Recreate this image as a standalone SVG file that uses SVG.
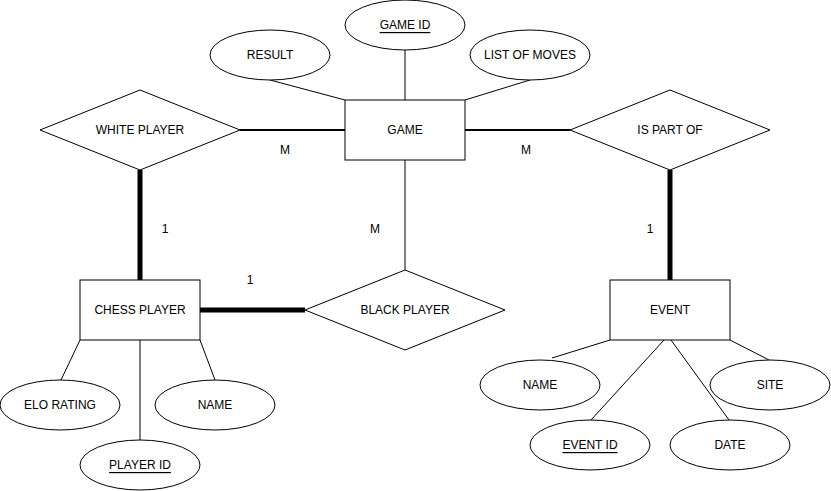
<svg xmlns="http://www.w3.org/2000/svg" width="831" height="491" viewBox="0 0 831 491">
<style>
.shape{fill:#ffffff;stroke:#000000;stroke-width:1}
.t{font-family:"Liberation Sans",Arial,sans-serif;font-size:12px;fill:#000000;text-anchor:middle;dominant-baseline:central}
.u{text-decoration:underline}
.thin{stroke:#000000;stroke-width:1;fill:none}
.med{stroke:#000000;stroke-width:2;fill:none}
.thick{stroke:#000000;stroke-width:5;fill:none}
</style>
<rect x="0" y="0" width="831" height="491" fill="#ffffff"/>
<g id="connectors">
<line class="thin" x1="270" y1="80" x2="345" y2="100"/>
<line class="thin" x1="405" y1="50" x2="405" y2="100"/>
<line class="thin" x1="530" y1="80" x2="465" y2="100"/>
<line class="med" x1="240" y1="130" x2="345" y2="130"/>
<line class="med" x1="465" y1="130" x2="570" y2="130"/>
<line class="thick" x1="140" y1="170" x2="140" y2="280"/>
<line class="thick" x1="670" y1="170" x2="670" y2="280"/>
<line class="thin" x1="405" y1="160" x2="405" y2="270"/>
<line class="thick" x1="200" y1="310" x2="305" y2="310"/>
<line class="thin" x1="80" y1="340" x2="61" y2="380"/>
<line class="thin" x1="140" y1="340" x2="140" y2="440"/>
<line class="thin" x1="200" y1="340" x2="215" y2="380"/>
<line class="thin" x1="610" y1="340" x2="552" y2="358"/>
<line class="thin" x1="664" y1="340" x2="591" y2="420"/>
<line class="thin" x1="671" y1="340" x2="729" y2="420"/>
<line class="thin" x1="730" y1="340" x2="769" y2="360"/>
<text class="t" x="285" y="150">M</text>
<text class="t" x="526" y="150">M</text>
<text class="t" x="165" y="229">1</text>
<text class="t" x="375" y="229">M</text>
<text class="t" x="650" y="229">1</text>
<text class="t" x="250" y="280">1</text>
</g>
<g id="result"><ellipse class="shape" cx="270" cy="55" rx="60" ry="25"/><text class="t" x="270" y="55">RESULT</text></g>
<g id="game-id"><ellipse class="shape" cx="405" cy="25" rx="60" ry="25"/><text class="t u" x="405" y="25">GAME ID</text></g>
<g id="list-of-moves"><ellipse class="shape" cx="530" cy="55" rx="60" ry="25"/><text class="t" x="530" y="55">LIST OF MOVES</text></g>
<g id="game"><rect class="shape" x="345" y="100" width="120" height="60"/><text class="t" x="405" y="130">GAME</text></g>
<g id="white-player"><polygon class="shape" points="140,90 240,130 140,170 40,130"/><text class="t" x="140" y="130">WHITE PLAYER</text></g>
<g id="is-part-of"><polygon class="shape" points="670,90 770,130 670,170 570,130"/><text class="t" x="670" y="130">IS PART OF</text></g>
<g id="black-player"><polygon class="shape" points="405,270 505,310 405,350 305,310"/><text class="t" x="405" y="310">BLACK PLAYER</text></g>
<g id="chess-player"><rect class="shape" x="80" y="280" width="120" height="60"/><text class="t" x="140" y="310">CHESS PLAYER</text></g>
<g id="event"><rect class="shape" x="610" y="280" width="120" height="60"/><text class="t" x="670" y="310">EVENT</text></g>
<g id="elo-rating"><ellipse class="shape" cx="60" cy="405" rx="60" ry="25"/><text class="t" x="60" y="405">ELO RATING</text></g>
<g id="player-name"><ellipse class="shape" cx="215" cy="405" rx="60" ry="25"/><text class="t" x="215" y="405">NAME</text></g>
<g id="player-id"><ellipse class="shape" cx="140" cy="465" rx="60" ry="25"/><text class="t u" x="140" y="465">PLAYER ID</text></g>
<g id="event-name"><ellipse class="shape" cx="540" cy="385" rx="60" ry="25"/><text class="t" x="540" y="385">NAME</text></g>
<g id="site"><ellipse class="shape" cx="770" cy="385" rx="60" ry="25"/><text class="t" x="770" y="385">SITE</text></g>
<g id="event-id"><ellipse class="shape" cx="590" cy="445" rx="60" ry="25"/><text class="t u" x="590" y="445">EVENT ID</text></g>
<g id="date"><ellipse class="shape" cx="730" cy="445" rx="60" ry="25"/><text class="t" x="730" y="445">DATE</text></g>
</svg>
